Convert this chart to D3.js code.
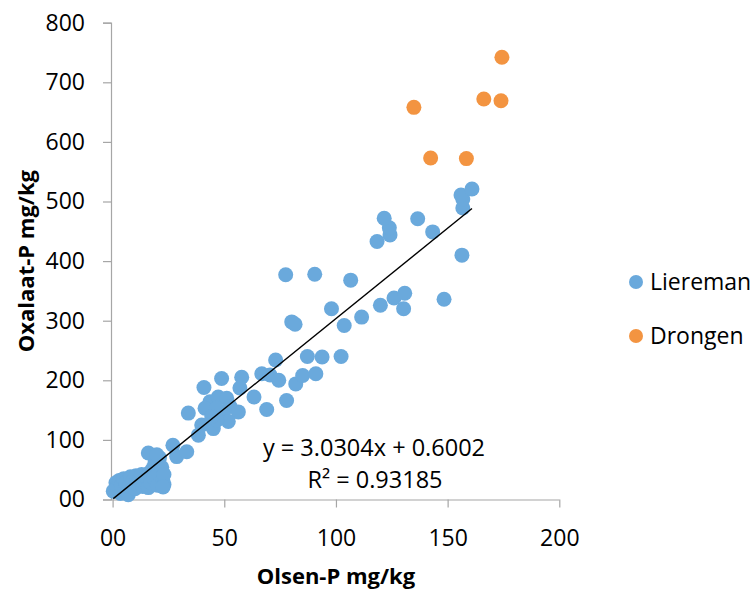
<!DOCTYPE html>
<html>
<head>
<meta charset="utf-8">
<script src="https://cdn.jsdelivr.net/npm/d3@7"></script>
<style>
  body { margin: 0; background: #fff; }
  text { font-family: "Open Sans", sans-serif; fill: #000; }
</style>
</head>
<body>
<div id="chart"></div>
<script>
// Lieremans: Olsen-P (x), Oxalaat-P (y)
var liereX = [0.3, 1.5, 2, 3, 3.5, 4, 5, 5.5, 6, 7, 7.5, 8, 9, 10, 10.5, 11, 12, 13, 13.5, 14,
  15, 16, 16.5, 17, 18, 18.5, 19, 20, 20.5, 21, 22, 22.5, 23, 23, 22.6, 16, 19.8, 27, 28.7,
  33.2, 33.9, 38.4, 39.9, 45.1, 43.6, 47.3, 51.1, 41.4, 46.6, 52.6, 56.3, 49.6, 51.8, 46.6, 44.4,
  40.9, 48.8, 57.8, 57, 63.3, 69, 66.8, 70.5, 74.4, 73, 77.9, 82, 85.1, 91, 87.2, 93.8, 102.3,
  80.2, 81.7, 98, 77.5, 90.5, 103.7, 106.6, 111.5, 119.9, 126, 130.3, 130.8, 148.4,
  118.4, 124.2, 123.9, 121.6, 136.6, 143.3, 156.4, 156.8, 156.8, 156, 160.9];
var liereY = [14, 28, 20, 32, 10, 24, 35, 16, 28, 8, 22, 38, 30, 18, 40, 26, 34, 42, 22, 30,
  38, 20, 45, 28, 52, 36, 62, 24, 44, 70, 54, 32, 25, 42, 21, 78, 75, 91, 72,
  80, 145, 108, 125, 119, 164, 172, 170, 153, 153, 156, 147, 139, 131, 133, 139,
  188, 203, 205, 187, 172, 151, 211, 209, 200, 234, 166, 194, 208, 211, 240, 239, 240,
  298, 294, 320, 377, 378, 292, 368, 306, 326, 338, 320, 346, 336,
  433, 444, 456, 472, 471, 449, 410, 489, 504, 511, 521];
// Drongen
var drongX = [174.3, 166.2, 173.9, 134.9, 142.4, 158.4];
var drongY = [742, 672, 669, 658, 573, 572];

var seriesNames = ["Liereman", "Drongen"];
var xTicks = [0, 50, 100, 150, 200];
var yTicks = [0, 100, 200, 300, 400, 500, 600, 700, 800];
var slope = 3.0304, intercept = 0.6002, r2 = "0.93185";

var width = 752, height = 589;
var colors = ["#6aa9dc", "#f39441"];
var axisColor = "#a6a6a6";

var svg = d3.select("#chart").append("svg")
  .attr("width", width)
  .attr("height", height);

var x = d3.scaleLinear().domain([0, 200]).range([112.6, 559.3]);
var y = d3.scaleLinear().domain([0, 800]).range([499.5, 22.7]);

function tickFmt(d) { return d === 0 ? "00" : d; }

// axes
var xAxis = svg.append("g")
  .attr("transform", "translate(0," + y(0) + ")")
  .call(d3.axisBottom(x).tickValues(xTicks).tickSize(8).tickPadding(22).tickFormat(tickFmt));
var yAxis = svg.append("g")
  .attr("transform", "translate(111,0)")
  .call(d3.axisLeft(y).tickValues(yTicks).tickSize(8).tickPadding(18).tickFormat(tickFmt));

[xAxis, yAxis].forEach(function(a) {
  a.select(".domain").attr("stroke", axisColor).attr("stroke-width", 1.2);
  a.selectAll(".tick line").attr("stroke", axisColor).attr("stroke-width", 1.2);
  a.selectAll(".tick text")
    .attr("font-family", "Open Sans, sans-serif")
    .attr("font-size", "23px")
    .attr("fill", "#000");
});
xAxis.select(".domain").attr("d", "M111,0.5H" + x(200));

// points
var liere = liereX.map(function(v, i) { return {x: v, y: liereY[i]}; });
var drong = drongX.map(function(v, i) { return {x: v, y: drongY[i]}; });

svg.append("g").selectAll("circle")
  .data(liere)
  .enter()
  .append("circle")
  .attr("cx", function(d) { return x(d.x); })
  .attr("cy", function(d) { return y(d.y); })
  .attr("r", 7.5)
  .attr("fill", colors[0]);

svg.append("g").selectAll("circle")
  .data(drong)
  .enter()
  .append("circle")
  .attr("cx", function(d) { return x(d.x); })
  .attr("cy", function(d) { return y(d.y); })
  .attr("r", 7.5)
  .attr("fill", colors[1]);

// trend line over the Liereman series
var xMin = d3.min(liereX), xMax = d3.max(liereX);
svg.append("line")
  .attr("x1", x(xMin)).attr("y1", y(slope * xMin + intercept))
  .attr("x2", x(xMax)).attr("y2", y(slope * xMax + intercept))
  .attr("stroke", "#000")
  .attr("stroke-width", 1.4);

svg.append("text")
  .attr("x", 374).attr("y", 456)
  .attr("text-anchor", "middle")
  .attr("font-size", "23.5px")
  .text("y = " + slope.toFixed(4) + "x + " + intercept.toFixed(4));
svg.append("text")
  .attr("x", 375).attr("y", 488)
  .attr("text-anchor", "middle")
  .attr("font-size", "23.5px")
  .text("R² = " + r2);

// axis titles
svg.append("text")
  .attr("x", (x(0) + x(200)) / 2).attr("y", 584)
  .attr("text-anchor", "middle")
  .attr("font-size", "22px")
  .attr("font-weight", "bold")
  .text("Olsen-P mg/kg");
svg.append("text")
  .attr("transform", "translate(34," + (y(0) + y(800)) / 2 + ") rotate(-90)")
  .attr("text-anchor", "middle")
  .attr("font-size", "22px")
  .attr("font-weight", "bold")
  .text("Oxalaat-P mg/kg");

// legend
var legend = svg.append("g").selectAll("g")
  .data(seriesNames)
  .enter()
  .append("g")
  .attr("transform", function(d, i) { return "translate(636," + (282 + i * 54) + ")"; });
legend.append("circle")
  .attr("r", 7)
  .attr("fill", function(d, i) { return colors[i]; });
legend.append("text")
  .attr("x", 14).attr("y", 8)
  .attr("font-size", "23px")
  .text(function(d) { return d; });
</script>
</body>
</html>
